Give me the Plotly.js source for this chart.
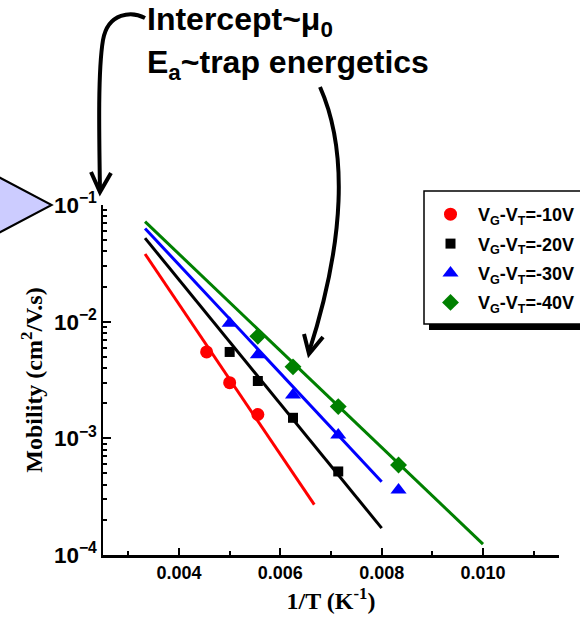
<!DOCTYPE html>
<html>
<head>
<meta charset="utf-8">
<script src="https://cdn.plot.ly/plotly-3.0.1.min.js"></script>
<style>html,body{margin:0;padding:0;background:#fff;overflow:hidden;}#chart{width:580px;height:621px;}</style>
</head>
<body>
<div id="chart"></div>
<script>
// ---- data ----
const seriesNames = ["V<sub>G</sub>-V<sub>T</sub>=-10V", "V<sub>G</sub>-V<sub>T</sub>=-20V",
                     "V<sub>G</sub>-V<sub>T</sub>=-30V", "V<sub>G</sub>-V<sub>T</sub>=-40V"];
const x10 = [0.004545, 0.005, 0.005556];
const y10 = [5.5e-3, 3.0e-3, 1.6e-3];
const x20 = [0.005, 0.005556, 0.00625, 0.007143];
const y20 = [5.5e-3, 3.1e-3, 1.5e-3, 5.2e-4];
const x30 = [0.005, 0.005556, 0.00625, 0.007143, 0.008333];
const y30 = [9.7e-3, 5.2e-3, 2.35e-3, 1.07e-3, 3.6e-4];
const x40 = [0.005556, 0.00625, 0.007143, 0.008333];
const y40 = [7.5e-3, 4.1e-3, 1.87e-3, 5.9e-4];
// fitted lines (end points)
const fitX10 = [0.00333, 0.00667], fitY10 = [0.038, 2.7e-4];
const fitX20 = [0.00333, 0.008],   fitY20 = [0.052, 1.7e-4];
const fitX30 = [0.00333, 0.008],   fitY30 = [0.063, 4.25e-4];
const fitX40 = [0.00333, 0.010],   fitY40 = [0.072, 1.24e-4];

const colors = ["#ff0000", "#000000", "#0000ff", "#008000"];
const symbols = ["circle", "square", "triangle-up", "diamond"];
const sizes = [13, 10, 14, 13];
const pts = [[x10,y10],[x20,y20],[x30,y30],[x40,y40]];
const fits = [[fitX10,fitY10],[fitX20,fitY20],[fitX30,fitY30],[fitX40,fitY40]];

const traces = [];
fits.forEach((f,i)=>traces.push({x:f[0], y:f[1], mode:'lines', type:'scatter', showlegend:false,
  line:{color:colors[i], width:3}, hoverinfo:'skip'}));
pts.forEach((p,i)=>traces.push({x:p[0], y:p[1], mode:'markers', type:'scatter', name:seriesNames[i],
  legendgroup:'g'+i, marker:{color:colors[i], symbol:symbols[i], size:sizes[i]}}));

// pixel -> paper helpers for decorations
const L=103, R=559, T=205, B=555;
const px = v => (v-L)/(R-L);
const py = v => (B-v)/(B-T);
const P = (a,b) => px(a).toFixed(4)+','+py(b).toFixed(4);

const shapes = [
  // big light-purple arrow tip at left
  {type:'path', xref:'paper', yref:'paper', path:'M '+P(-10,172.5)+' L '+P(51.7,205)+' L '+P(-10,237.5)+' Z',
   fillcolor:'#ccccff', line:{color:'#000', width:2}},
  // legend shadow + box
  {type:'rect', xref:'paper', yref:'paper', x0:px(429), x1:px(600), y0:py(197), y1:py(330),
   fillcolor:'#000', line:{width:0}},
  {type:'rect', xref:'paper', yref:'paper', x0:px(424), x1:px(595), y0:py(191), y1:py(324),
   fillcolor:'#fff', line:{color:'#000', width:1.5}},
  // curved arrow to intercept
  {type:'path', xref:'paper', yref:'paper', path:'M '+P(145,18)+' C '+P(132,11)+' '+P(108,12)+' '+P(103,40)+' C '+P(98,70)+' '+P(99,130)+' '+P(100,190),
   line:{color:'#000', width:4}},
  {type:'path', xref:'paper', yref:'paper', path:'M '+P(91,172)+' L '+P(100,192)+' L '+P(111,173),
   line:{color:'#000', width:4}},
  // curved arrow to slopes
  {type:'path', xref:'paper', yref:'paper', path:'M '+P(320,87)+' C '+P(348,150)+' '+P(345,240)+' '+P(309,352),
   line:{color:'#000', width:4}},
  {type:'path', xref:'paper', yref:'paper', path:'M '+P(304,334)+' L '+P(309,354)+' L '+P(323,337),
   line:{color:'#000', width:4}}
];

const annFont = {family:'Liberation Sans, Arial, sans-serif', size:32, color:'#000', weight:'bold'};
const annotations = [
  {text:'<b>Intercept~μ<sub>0</sub></b>', xref:'paper', yref:'paper', x:px(145), y:py(22), xanchor:'left', yanchor:'middle', showarrow:false, font:annFont},
  {text:'<b>E<sub>a</sub>~trap energetics</b>', xref:'paper', yref:'paper', x:px(145), y:py(64), xanchor:'left', yanchor:'middle', showarrow:false, font:annFont}
];

const tickFont = {family:'Liberation Sans, Arial, sans-serif', size:18, color:'#000', weight:'bold'};
const titleFont = {family:'Liberation Serif, Times New Roman, serif', size:24, color:'#000', weight:'bold'};

const layout = {
  width:580, height:621,
  margin:{l:L, r:580-R, t:T, b:621-B, autoexpand:false},
  paper_bgcolor:'#fff', plot_bgcolor:'#fff',
  showlegend:true,
  legend:{x:px(423), y:py(196), xanchor:'left', yanchor:'top', bgcolor:'rgba(0,0,0,0)', borderwidth:0,
    font:{family:'Liberation Sans, Arial, sans-serif', size:18, color:'#000', weight:'bold'},
    tracegroupgap:3, itemwidth:45},
  xaxis:{type:'linear', range:[0.0025, 0.0115], tick0:0, dtick:0.002, tickformat:'.3f',
    showgrid:false, zeroline:false, showline:true, linecolor:'#000', linewidth:2.5,
    ticks:'inside', ticklen:7, tickwidth:2, tickcolor:'#000', tickfont:tickFont,
    minor:{dtick:0.001, ticks:'inside', ticklen:4, tickwidth:2, tickcolor:'#000', showgrid:false},
    title:{text:'1/T (K<sup>-1</sup>)', font:titleFont, standoff:10}},
  yaxis:{type:'log', range:[-4, -1], dtick:1, exponentformat:'power',
    showgrid:false, zeroline:false, showline:true, linecolor:'#000', linewidth:2.5,
    ticks:'inside', ticklen:8, tickwidth:2, tickcolor:'#000', tickfont:tickFont,
    minor:{dtick:'D1', ticks:'inside', ticklen:4, tickwidth:2, tickcolor:'#000', showgrid:false},
    title:{text:'Mobility (cm<sup>2</sup>/V.s)', font:titleFont, standoff:5}},
  shapes:shapes, annotations:annotations
};

Plotly.newPlot('chart', traces, layout, {displayModeBar:false, staticPlot:true});
</script>
</body>
</html>
